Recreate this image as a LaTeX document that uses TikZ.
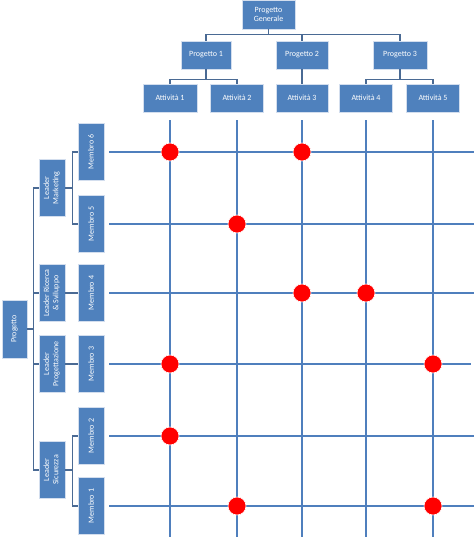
\documentclass[tikz,border=0pt]{standalone}
\usepackage{fontspec}
\setmainfont{Carlito}
\definecolor{boxblue}{HTML}{4F81BD}
\definecolor{boxedge}{HTML}{D3DEEE}
\definecolor{connc}{HTML}{4A6A94}
\definecolor{gridc}{HTML}{4F7FBD}
\begin{document}
\begin{tikzpicture}[x=1pt,y=-1pt,
  box/.style={rectangle,fill=boxblue,draw=boxedge,line width=0.8pt,text=white,inner sep=0pt,
    font=\fontsize{8}{9.2}\selectfont,align=center},
  hbox/.style={box,minimum height=28pt},
  vbox/.style={box,minimum width=26pt,minimum height=57pt},
  conn/.style={draw=connc,line width=1.1pt},
  gridl/.style={draw=gridc,line width=1.7pt},
  dot/.style={circle,fill=red,draw=white,line width=0.6pt,minimum size=18pt,inner sep=0pt}]
\useasboundingbox (0,0) rectangle (474,537);
\coordinate (R) at (474,0);
\coordinate (B) at (0,537);
% top tree
\node[hbox,minimum width=53pt,minimum height=29pt] (pg) at (268.5,14.5) {Progetto\\Generale};
\node[hbox,minimum width=50pt] (p1) at (206,55) {Progetto 1};
\node[hbox,minimum width=52pt] (p2) at (302,55) {Progetto 2};
\node[hbox,minimum width=54pt] (p3) at (400,55) {Progetto 3};
\node[hbox,minimum width=54pt] (a1) at (170,98) {Attività 1};
\node[hbox,minimum width=53pt] (a2) at (237,98) {Attività 2};
\node[hbox,minimum width=52pt] (a3) at (302,98) {Attività 3};
\node[hbox,minimum width=53pt] (a4) at (366,98) {Attività 4};
\node[hbox,minimum width=53pt] (a5) at (433,98) {Attività 5};
% left tree
\node[vbox,minimum width=25pt,minimum height=58pt] (pr) at (14.5,329) {\rotatebox{90}{Progetto}};
\node[vbox] (lm) at (52,188) {\rotatebox{90}{\begin{tabular}{@{}c@{}}Leader\\Marketing\end{tabular}}};
\node[vbox] (lrs) at (52,293) {\rotatebox{90}{\begin{tabular}{@{}c@{}}Leader Ricerca\\\& Sviluppo\end{tabular}}};
\node[vbox] (lp) at (52,364) {\rotatebox{90}{\begin{tabular}{@{}c@{}}Leader\\Progettazione\end{tabular}}};
\node[vbox] (ls) at (52,470) {\rotatebox{90}{\begin{tabular}{@{}c@{}}Leader\\Sicurezza\end{tabular}}};
\node[vbox] (m6) at (91,152) {\rotatebox{90}{Membro 6}};
\node[vbox] (m5) at (91,224) {\rotatebox{90}{Membro 5}};
\node[vbox] (m4) at (91,293) {\rotatebox{90}{Membro 4}};
\node[vbox] (m3) at (91,364) {\rotatebox{90}{Membro 3}};
\node[vbox] (m2) at (91,436) {\rotatebox{90}{Membro 2}};
\node[vbox] (m1) at (91,506) {\rotatebox{90}{Membro 1}};
% top connectors
\draw[conn] (pg.south) -- ++(0,5) coordinate (pgb);
\draw[conn] (pgb) -| (p1.north);
\draw[conn] (pgb) -| (p2.north);
\draw[conn] (pgb) -| (p3.north);
\draw[conn] (p1.south) -- ++(0,10) coordinate (p1b);
\draw[conn] (p1b) -| (a1.north);
\draw[conn] (p1b) -| (a2.north);
\draw[conn] (p2.south) -- (a3.north);
\draw[conn] (p3.south) -- ++(0,10) coordinate (p3b);
\draw[conn] (p3b) -| (a4.north);
\draw[conn] (p3b) -| (a5.north);
% left connectors
\draw[conn] (pr.east) -- ++(6,0) coordinate (prb);
\draw[conn] (prb) |- (lm.west);
\draw[conn] (prb) |- (lrs.west);
\draw[conn] (prb) |- (lp.west);
\draw[conn] (prb) |- (ls.west);
\draw[conn] (lm.east) -- ++(7,0) coordinate (lmb);
\draw[conn] (lmb) |- (m6.west);
\draw[conn] (lmb) |- (m5.west);
\draw[conn] (lrs.east) -- (m4.west);
\draw[conn] (lp.east) -- (m3.west);
\draw[conn] (ls.east) -- ++(7,0) coordinate (lsb);
\draw[conn] (lsb) |- (m2.west);
\draw[conn] (lsb) |- (m1.west);
% grid
\foreach \a in {a1,a2,a3,a4,a5}
  \draw[gridl] (\a.south) ++(0,8) -- (\a.south |- B);
\foreach \m in {m6,m5,m4,m2,m1}
  \draw[gridl] (\m.east) ++(5,0) -- (\m.center -| R);
\draw[gridl] (m3.east) ++(5,0) -- ([xshift=-3pt]m3.center -| R);
% dots
\node[dot] (d1) at (a1 |- m6) {};
\node[dot] (d2) at (a3 |- m6) {};
\node[dot] (d3) at (a2 |- m5) {};
\node[dot] (d4) at (a3 |- m4) {};
\node[dot] (d5) at (a4 |- m4) {};
\node[dot] (d6) at (a1 |- m3) {};
\node[dot] (d7) at (a5 |- m3) {};
\node[dot] (d8) at (a1 |- m2) {};
\node[dot] (d9) at (a2 |- m1) {};
\node[dot] (d10) at (a5 |- m1) {};
\end{tikzpicture}
\end{document}
